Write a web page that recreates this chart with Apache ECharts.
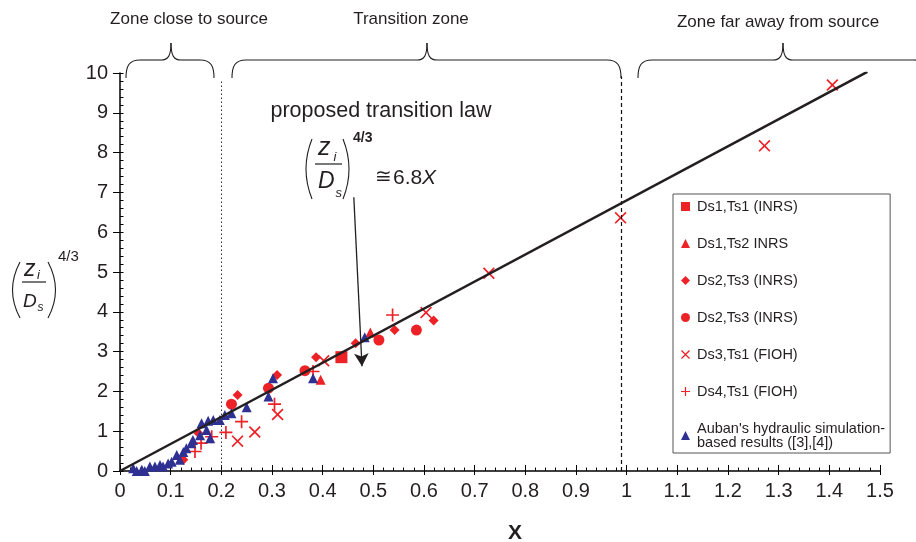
<!DOCTYPE html>
<html>
<head>
<meta charset="utf-8">
<script src="https://cdn.jsdelivr.net/npm/echarts@6/dist/echarts.min.js"></script>
<style>
  html, body { margin: 0; padding: 0; background: #fff; }
  #chart { width: 916px; height: 542px; }
</style>
</head>
<body>
<div id="chart"></div>
<script>
// ---- data -------------------------------------------------------------
const FONT = '"Liberation Sans", Arial, Helvetica, sans-serif';
const RED = '#ec2227';
const BLUE = '#2e3192';
const INK = '#231f20';

const seriesNames = [
  'Ds1,Ts1 (INRS)',
  'Ds1,Ts2 INRS',
  'Ds2,Ts3 (INRS)',
  'Ds2,Ts3 (INRS) ',
  'Ds3,Ts1 (FIOH)',
  'Ds4,Ts1 (FIOH)',
  "Auban's hydraulic simulation-\nbased results ([3],[4])"
];

// [X, (zi/Ds)^(4/3)]
const ds1ts1 = [[0.437, 2.86]];
const ds1ts2 = [[0.396, 2.29], [0.494, 3.48]];
const ds2ts3Diamond = [
  [0.125, 0.28], [0.155, 0.95], [0.232, 1.91], [0.310, 2.41],
  [0.387, 2.86], [0.465, 3.21], [0.542, 3.54], [0.619, 3.78]
];
const ds2ts3Circle = [[0.220, 1.68], [0.293, 2.08], [0.365, 2.52], [0.511, 3.29], [0.585, 3.54]];
const ds3ts1 = [
  [0.232, 0.75], [0.266, 0.98], [0.311, 1.42], [0.402, 2.77], [0.604, 3.98],
  [0.728, 4.97], [0.988, 6.36], [1.272, 8.17], [1.406, 9.70]
];
const ds4ts1 = [
  [0.148, 0.49], [0.160, 0.70], [0.181, 0.86], [0.209, 0.97],
  [0.240, 1.24], [0.305, 1.68], [0.381, 2.50], [0.538, 3.92]
];
const auban = [
  [0.026, 0.07], [0.033, 0.00], [0.043, 0.03], [0.049, 0.00], [0.059, 0.11],
  [0.069, 0.11], [0.079, 0.15], [0.085, 0.11], [0.095, 0.19], [0.102, 0.23],
  [0.112, 0.40], [0.118, 0.28], [0.125, 0.48], [0.131, 0.57], [0.141, 0.70],
  [0.144, 0.78], [0.158, 0.90], [0.161, 1.20], [0.171, 1.03], [0.174, 1.26],
  [0.178, 0.82], [0.184, 1.28], [0.197, 1.28], [0.207, 1.41], [0.220, 1.45],
  [0.250, 1.60], [0.293, 1.87], [0.302, 2.33], [0.381, 2.33], [0.483, 3.36]
];

// proposed transition law (zi/Ds)^(4/3) ~= 6.8 X
const lawSlope = 6.8;
const lawRange = [0, 1.475];
// zone boundaries on X
const nearZoneEnd = 0.2;
const farZoneStart = 0.99;
// arrow pointing from the law text down to the line
const arrowFrom = [0.4615, 6.88];
const arrowTo = [0.4776, 2.63];

const xTickStep = 0.1;
const yTickStep = 1;

// ---- symbols ----------------------------------------------------------
const X_PATH = 'path://M0,1L1,0L5,4L9,0L10,1L6,5L10,9L9,10L5,6L1,10L0,9L4,5Z';
const PLUS_PATH = 'path://M4.35,0H5.65V4.35H10V5.65H5.65V10H4.35V5.65H0V4.35H4.35Z';

function scatter(name, data, symbol, size, color) {
  return {
    type: 'scatter', name, data, symbol, symbolSize: size,
    itemStyle: { color, opacity: 1 },
    emphasis: { disabled: true }
  };
}

const lawLine = lawRange.map(x => [x, lawSlope * x]);

// ---- braces over the zones --------------------------------------------
const strokeStyle = { stroke: INK, lineWidth: 1.1, fill: 'none' };
function seg(x1, y1, x2, y2) {
  return { type: 'line', silent: true, shape: { x1, y1, x2, y2 }, style: strokeStyle };
}
function curve(x1, y1, c1x, c1y, c2x, c2y, x2, y2) {
  return {
    type: 'bezierCurve', silent: true,
    shape: { x1, y1, x2, y2, cpx1: c1x, cpy1: c1y, cpx2: c2x, cpy2: c2y },
    style: strokeStyle
  };
}
function brace(xa, xm, xb) {
  const yEnd = 78, yH = 60, yP = 43;
  return [
    curve(xa, yEnd, xa, yH + 6, xa + 3, yH, xa + 14, yH),
    seg(xa + 14, yH, xm - 10, yH),
    curve(xm - 10, yH, xm - 3, yH, xm, yH - 4, xm, yP),
    curve(xm, yP, xm, yH - 4, xm + 3, yH, xm + 10, yH),
    seg(xm + 10, yH, xb - 14, yH),
    curve(xb - 14, yH, xb - 3, yH, xb, yH + 6, xb, yEnd)
  ];
}

function txt(text, x, y, size, opts) {
  opts = opts || {};
  return {
    type: 'text', x, y, silent: true,
    style: {
      text, fill: opts.fill || INK,
      fontSize: size, fontFamily: opts.family || FONT,
      fontStyle: opts.italic ? 'italic' : 'normal',
      fontWeight: opts.bold ? 'bold' : 'normal',
      align: opts.align || 'left', verticalAlign: 'middle'
    }
  };
}
function paren(x1, y1, cx, x2, y2) {
  return {
    type: 'bezierCurve', silent: true,
    shape: { x1, y1, x2, y2, cpx1: cx, cpy1: (y1 + y2) / 2 },
    style: { stroke: INK, lineWidth: 1.1, fill: 'none' }
  };
}
function hline(x1, x2, y) {
  return { type: 'line', silent: true, shape: { x1, y1: y, x2, y2: y }, style: { stroke: INK, lineWidth: 1.2 } };
}

const graphics = [].concat(
  [
    // zone headings
    txt('Zone close to source', 189, 19, 17, { align: 'center' }),
    txt('Transition zone', 411, 19, 17, { align: 'center' }),
    txt('Zone far away from source', 778, 22, 17, { align: 'center' })
  ],
  brace(126, 171, 214),
  brace(232, 427, 621),
  brace(638, 783, 928),
  [
    // law annotation
    txt('proposed transition law', 381, 111, 21.5, { align: 'center' }),
    paren(312, 139, 300, 312, 199),
    txt('z', 318, 148, 25, { italic: true }),
    txt('i', 333.5, 157.5, 13, { italic: true }),
    hline(315, 342, 164),
    txt('D', 318, 181.5, 23, { italic: true }),
    txt('s', 335.5, 193.5, 13, { italic: true }),
    paren(343, 139, 355, 343, 199),
    txt('4/3', 353, 138, 14, { bold: true }),
    txt('\u2245', 375, 178, 20, { family: '"DejaVu Sans", ' + FONT }),
    txt('6.8', 393, 178.5, 21),
    txt('X', 422, 178.5, 21, { italic: true }),

    // y-axis title
    paren(20, 262, 5, 20, 318),
    txt('z', 24, 270, 23, { italic: true }),
    txt('i', 37, 275.5, 13, { italic: true }),
    hline(22, 46, 282),
    txt('D', 23, 301.5, 19, { italic: true }),
    txt('s', 37.5, 308, 12, { italic: true }),
    paren(48, 262, 63, 48, 318),
    txt('4/3', 58, 257, 15),

    // x-axis title
    txt('X', 515, 533, 21, { bold: true, align: 'center' })
  ]
);

const axisLineStyle = { color: '#000', width: 1.5 };

const option = {
  animation: false,
  backgroundColor: '#fff',
  grid: { left: 120, right: 36, top: 73, bottom: 71, containLabel: false },
  xAxis: [
    {
      type: 'value', min: 0, max: 1.5, interval: xTickStep,
      axisLine: { show: true, onZero: false, lineStyle: axisLineStyle },
      axisTick: { show: true, inside: false, length: 4, lineStyle: { color: '#000', width: 1 } },
      minorTick: { show: false },
      axisLabel: { fontSize: 20, fontFamily: FONT, color: INK, margin: 10 },
      splitLine: { show: false }
    },
    {
      type: 'value', min: 0, max: 1.5, interval: xTickStep, position: 'bottom',
      axisLine: { show: false },
      axisTick: { show: true, inside: true, length: 6, lineStyle: { color: '#000', width: 1 } },
      minorTick: { show: true, splitNumber: 5, length: 3.5, lineStyle: { color: '#000', width: 1 } },
      axisLabel: { show: false },
      splitLine: { show: false }
    }
  ],
  yAxis: [
    {
      type: 'value', min: 0, max: 10, interval: yTickStep,
      axisLine: { show: true, onZero: false, lineStyle: axisLineStyle },
      axisTick: { show: true, inside: false, length: 7, lineStyle: { color: '#000', width: 1 } },
      axisLabel: { fontSize: 20, fontFamily: FONT, color: INK, margin: 12 },
      splitLine: { show: false }
    },
    {
      type: 'value', min: 0, max: 10, interval: yTickStep, position: 'left',
      axisLine: { show: false },
      axisTick: { show: true, inside: true, length: 3.5, lineStyle: { color: '#000', width: 1 } },
      minorTick: { show: true, splitNumber: 5, length: 3.5, lineStyle: { color: '#000', width: 1 } },
      axisLabel: { show: false },
      splitLine: { show: false }
    }
  ],
  legend: {
    orient: 'vertical', left: 673, top: 194,
    padding: [5, 5, 3, 8], itemGap: 22, itemWidth: 9, itemHeight: 9,
    borderColor: '#555', borderWidth: 1, backgroundColor: '#fff',
    selectedMode: false,
    textStyle: { fontSize: 14.5, fontFamily: FONT, color: INK, lineHeight: 14, padding: [0, 0, 0, 2] },
    data: seriesNames
  },
  graphic: { elements: graphics },
  series: [
    scatter(seriesNames[0], ds1ts1, 'rect', 12, RED),
    scatter(seriesNames[1], ds1ts2, 'triangle', 10, RED),
    scatter(seriesNames[2], ds2ts3Diamond, 'diamond', 10, RED),
    scatter(seriesNames[3], ds2ts3Circle, 'circle', 11, RED),
    scatter(seriesNames[4], ds3ts1, X_PATH, 12, RED),
    scatter(seriesNames[5], ds4ts1, PLUS_PATH, 13, RED),
    scatter(seriesNames[6], auban, 'triangle', 10, BLUE),
    {
      type: 'line', name: 'law', data: lawLine, z: 5,
      symbol: 'none', lineStyle: { color: INK, width: 2.5 },
      emphasis: { disabled: true },
      markLine: {
        silent: true, symbol: 'none', label: { show: false },
        data: [
          [{ coord: [nearZoneEnd, 0], lineStyle: { type: [1.5, 2.5], color: '#333', width: 1 } }, { coord: [nearZoneEnd, 9.85] }],
          [{ coord: [farZoneStart, 0], lineStyle: { type: [4, 3], color: '#111', width: 1.2 } }, { coord: [farZoneStart, 9.92] }]
        ]
      }
    },
    {
      type: 'line', name: 'arrow', data: [], z: 6,
      markLine: {
        silent: true, symbol: ['none', 'arrow'], symbolSize: [11, 13],
        label: { show: false },
        lineStyle: { color: INK, width: 1.3, type: 'solid' },
        data: [[{ coord: arrowFrom }, { coord: arrowTo }]]
      }
    }
  ]
};

const chart = echarts.init(document.getElementById('chart'), null, { renderer: 'canvas' });
chart.setOption(option);
</script>
</body>
</html>
